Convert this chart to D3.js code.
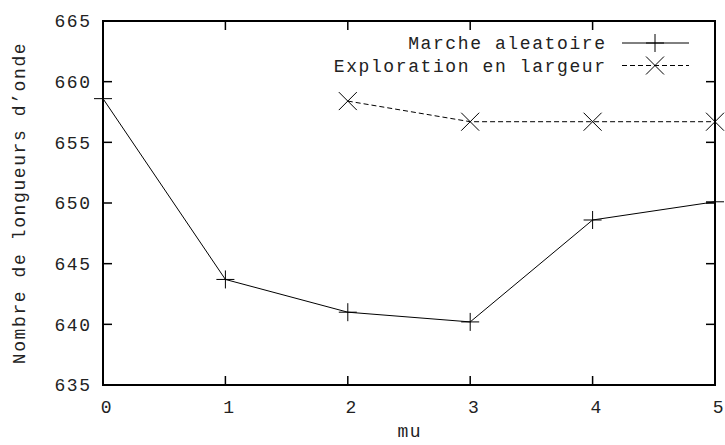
<!DOCTYPE html>
<html>
<head>
<meta charset="utf-8">
<script src="https://cdn.jsdelivr.net/npm/d3@7"></script>
<style>
  body { margin: 0; background: #fff; }
  text { font-family: "Liberation Mono", monospace; font-size: 18px; letter-spacing: 1.6px; fill: #222; }
</style>
</head>
<body>
<svg width="725" height="445"></svg>
<script>
const mu = [0, 1, 2, 3, 4, 5];
const marche = [658.6, 643.7, 641.0, 640.2, 648.6, 650.1];
const exploMu = [2, 3, 4, 5];
const exploration = [658.4, 656.7, 656.7, 656.7];
const xTicks = [0, 1, 2, 3, 4, 5];
const yTicks = [635, 640, 645, 650, 655, 660, 665];

const svg = d3.select("svg");
const plotLeft = 103, plotRight = 715, plotTop = 21, plotBottom = 385;

const x = d3.scaleLinear().domain([0, 5]).range([plotLeft, plotRight]);
const y = d3.scaleLinear().domain([635, 665]).range([plotBottom, plotTop]);

// ticks on all four sides, pointing inwards
const tickLen = 9;
yTicks.forEach(v => {
    svg.append("line").attr("x1", plotLeft).attr("x2", plotLeft + tickLen)
        .attr("y1", y(v)).attr("y2", y(v)).attr("stroke", "#000").attr("stroke-width", 1.5);
    svg.append("line").attr("x1", plotRight).attr("x2", plotRight - tickLen)
        .attr("y1", y(v)).attr("y2", y(v)).attr("stroke", "#000").attr("stroke-width", 1.5);
    svg.append("text").attr("x", 91.6).attr("y", y(v)).attr("dy", "0.35em")
        .attr("text-anchor", "end").text(v);
});
xTicks.forEach(v => {
    svg.append("line").attr("x1", x(v)).attr("x2", x(v))
        .attr("y1", plotBottom).attr("y2", plotBottom - tickLen).attr("stroke", "#000").attr("stroke-width", 1.5);
    svg.append("line").attr("x1", x(v)).attr("x2", x(v))
        .attr("y1", plotTop).attr("y2", plotTop + tickLen).attr("stroke", "#000").attr("stroke-width", 1.5);
    svg.append("text").attr("x", x(v) + 4).attr("y", 413)
        .attr("text-anchor", "middle").text(v);
});

// frame
svg.append("rect").attr("x", plotLeft).attr("y", plotTop)
    .attr("width", plotRight - plotLeft).attr("height", plotBottom - plotTop)
    .attr("fill", "none").attr("stroke", "#000").attr("stroke-width", 2);

// axis titles
svg.append("text").attr("x", (plotLeft + plotRight) / 2 + 0.8).attr("y", 437)
    .attr("text-anchor", "middle").text("mu");
svg.append("text").attr("transform", `translate(19,${(plotTop + plotBottom) / 2}) rotate(-90)`)
    .attr("dy", "0.35em").attr("text-anchor", "middle").text("Nombre de longueurs d\u2019onde");

const line = d3.line().x(d => x(d[0])).y(d => y(d[1]));

function plus(cx, cy, r) {
    svg.append("path").attr("d", `M${cx - r},${cy}H${cx + r}M${cx},${cy - r}V${cy + r}`)
        .attr("stroke", "#000").attr("stroke-width", 1).attr("fill", "none");
}
function cross(cx, cy, r) {
    svg.append("path").attr("d", `M${cx - r},${cy - r}L${cx + r},${cy + r}M${cx - r},${cy + r}L${cx + r},${cy - r}`)
        .attr("stroke", "#000").attr("stroke-width", 1).attr("fill", "none");
}

// Marche aleatoire
const m = mu.map((d, i) => [d, marche[i]]);
svg.append("path").datum(m).attr("d", line)
    .attr("fill", "none").attr("stroke", "#000").attr("stroke-width", 1);
m.forEach(d => plus(x(d[0]), y(d[1]), 9));

// Exploration en largeur
const e = exploMu.map((d, i) => [d, exploration[i]]);
svg.append("path").datum(e).attr("d", line)
    .attr("fill", "none").attr("stroke", "#000").attr("stroke-width", 1)
    .attr("stroke-dasharray", "5,3");
e.forEach(d => cross(x(d[0]), y(d[1]), 9));

// legend
const legend = [
    { label: "Marche aleatoire", dash: null, marker: plus },
    { label: "Exploration en largeur", dash: "5,3", marker: cross }
];
legend.forEach((l, i) => {
    const ly = 43 + i * 22.5;
    svg.append("text").attr("x", 606.6).attr("y", ly).attr("dy", "0.35em")
        .attr("text-anchor", "end").text(l.label);
    svg.append("line").attr("x1", 622).attr("x2", 689).attr("y1", ly).attr("y2", ly)
        .attr("stroke", "#000").attr("stroke-width", 1)
        .attr("stroke-dasharray", l.dash);
    l.marker(655, ly, 9);
});
</script>
</body>
</html>
